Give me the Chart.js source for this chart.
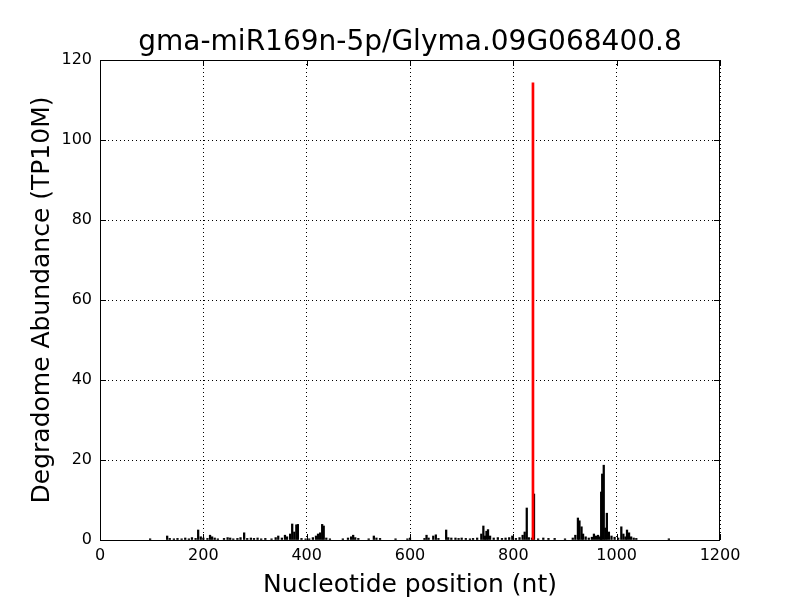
<!DOCTYPE html>
<html>
<head>
<meta charset="utf-8">
<script src="https://cdn.jsdelivr.net/npm/chart.js@4/dist/chart.umd.min.js"></script>
<style>
  html, body { margin: 0; padding: 0; background: #fff; }
  #chart { display: block; }
</style>
</head>
<body>
<canvas id="chart" width="800" height="600"></canvas>
<script>
// Degradome reads per nucleotide position
const positions = [
  97, 130, 135, 143, 150, 158, 165, 172, 178, 185, 190, 195, 200, 208, 213, 217, 222, 228,
  240, 247, 252, 258, 266, 272, 279, 285, 292, 298, 305, 312, 320, 332, 340, 345, 352, 358,
  362, 368, 372, 376, 380, 383, 390, 398, 405, 412, 418, 422, 426, 430, 433, 438, 445, 470,
  480, 486, 490, 494, 500, 520, 530, 535, 542, 572, 595, 600, 628, 632, 636, 645, 650, 655,
  670, 674, 680, 688, 694, 700, 708, 716, 722, 730, 738, 742, 745, 748, 751, 755, 762, 770,
  778, 785, 792, 798, 805, 812, 818, 822, 826, 830, 836, 840, 848, 858, 868, 880, 900, 915,
  920, 925, 928, 932, 935, 940, 946, 952, 956, 960, 964, 968, 970, 972, 975, 978, 981, 985,
  990, 996, 1003, 1009, 1013, 1017, 1020, 1024, 1028, 1033, 1038, 1101,
];
const abundance = [
  0.3, 1.0, 0.4, 0.3, 0.4, 0.3, 0.5, 0.3, 0.6, 0.4, 2.5, 0.8, 0.5, 0.4, 1.2, 0.8, 0.5, 0.3,
  0.4, 0.6, 0.5, 0.3, 0.4, 0.6, 1.8, 0.4, 0.5, 0.4, 0.5, 0.3, 0.4, 0.3, 0.6, 1.0, 0.5, 1.2,
  0.8, 1.5, 4.0, 2.0, 3.8, 3.9, 0.4, 0.3, 0.3, 0.6, 1.0, 1.5, 1.8, 3.9, 3.5, 0.5, 0.3, 0.3,
  0.5, 0.8, 1.2, 0.6, 0.4, 0.3, 1.0, 0.5, 0.4, 0.3, 0.3, 0.5, 0.4, 1.2, 0.5, 1.0, 1.3, 0.4,
  2.5, 0.6, 0.5, 0.5, 0.4, 0.5, 0.4, 0.3, 0.4, 0.5, 1.5, 3.5, 1.0, 2.2, 2.6, 1.0, 0.5, 0.6,
  0.4, 0.5, 0.6, 1.0, 0.4, 0.6, 1.2, 2.0, 8.0, 0.6, 0.5, 11.5, 0.3, 0.5, 0.4, 0.4, 0.3, 0.5,
  1.2, 5.5, 4.8, 3.3, 1.5, 0.8, 0.5, 0.7, 1.5, 1.0, 1.2, 0.8, 12.0, 16.5, 18.7, 3.0, 6.7, 2.0,
  1.0, 0.7, 0.5, 3.3, 1.5, 0.8, 2.5, 1.8, 0.8, 0.5, 0.4, 0.3,
];

// miRNA cleavage site
const sitePositions = [838];
const siteAbundance = [114.3];

const xTicks = [0, 200, 400, 600, 800, 1000, 1200];
const yTicks = [0, 20, 40, 60, 80, 100, 120];

const TITLE = 'gma-miR169n-5p/Glyma.09G068400.8';
const FONT = 'DejaVu Sans';

// box around the plot area + inward ticks + title centred on the axes
const frameBox = {
  id: 'frameBox',
  afterDraw(chart) {
    const a = chart.chartArea;
    const ctx = chart.ctx;
    ctx.save();
    ctx.strokeStyle = '#000';
    ctx.lineWidth = 1;
    ctx.strokeRect(a.left + 0.5, a.top + 0.5, a.right - a.left - 1, a.bottom - a.top);
    const xs = chart.scales.x, ys = chart.scales.y;
    ctx.beginPath();
    xTicks.forEach(function (t) {
      const px = Math.round(xs.getPixelForValue(t)) + 0.5;
      ctx.moveTo(px, a.bottom); ctx.lineTo(px, a.bottom - 6);
      ctx.moveTo(px, a.top); ctx.lineTo(px, a.top + 6);
    });
    yTicks.forEach(function (t) {
      const py = Math.round(ys.getPixelForValue(t)) + 0.5;
      ctx.moveTo(a.left, py); ctx.lineTo(a.left + 6, py);
      ctx.moveTo(a.right, py); ctx.lineTo(a.right - 6, py);
    });
    ctx.stroke();

    ctx.fillStyle = '#000';
    ctx.font = '28px "' + FONT + '"';
    ctx.textAlign = 'center';
    ctx.textBaseline = 'middle';
    ctx.fillText(TITLE, (a.left + a.right) / 2, 43);
    ctx.restore();
  },
};

const data = {
  datasets: [
    {
      label: 'site',
      data: sitePositions.map((p, i) => ({ x: p, y: siteAbundance[i] })),
      backgroundColor: '#ff0000',
      borderWidth: 0,
      barThickness: 2,
      grouped: false,
      order: 0,
    },
    {
      label: 'reads',
      data: positions.map((p, i) => ({ x: p, y: abundance[i] })),
      backgroundColor: '#000000',
      borderWidth: 0,
      barThickness: 1.6,
      grouped: false,
      order: 1,
    },
  ],
};

const config = {
  type: 'bar',
  data: data,
  plugins: [frameBox],
  options: {
    responsive: false,
    animation: false,
    layout: { padding: { left: 0, right: 80, top: 60, bottom: 0 } },
    plugins: {
      legend: { display: false },
      tooltip: { enabled: false },
      title: { display: false },
    },
    scales: {
      x: {
        type: 'linear',
        min: 0,
        max: 1200,
        offset: false,
        afterBuildTicks: function (scale) {
          scale.ticks = xTicks.map((v) => ({ value: v }));
        },
        afterFit: function (scale) { scale.height = 60; },
        grid: {
          offset: false,
          color: '#000',
          lineWidth: 1,
          drawTicks: false,
        },
        border: { display: false, dash: [1, 3] },
        ticks: {
          color: '#000',
          padding: 6,
          maxRotation: 0,
          font: { family: FONT, size: 16 },
          callback: function (value) { return String(value); },
        },
        title: {
          display: true,
          text: 'Nucleotide position (nt)',
          color: '#000',
          font: { family: FONT, size: 25 },
          padding: { top: 2, bottom: 0 },
        },
      },
      y: {
        min: 0,
        max: 120,
        afterBuildTicks: function (scale) {
          scale.ticks = yTicks.map((v) => ({ value: v }));
        },
        afterFit: function (scale) { scale.width = 100; },
        grid: {
          color: '#000',
          lineWidth: 1,
          drawTicks: false,
        },
        border: { display: false, dash: [1, 3] },
        ticks: {
          color: '#000',
          padding: 8,
          font: { family: FONT, size: 16 },
          callback: function (value) { return String(value); },
        },
        title: {
          display: true,
          text: 'Degradome Abundance (TP10M)',
          color: '#000',
          font: { family: FONT, size: 25 },
          padding: { top: 27, bottom: 0 },
        },
      },
    },
  },
};

const chart = new Chart(document.getElementById('chart'), config);
</script>
</body>
</html>
